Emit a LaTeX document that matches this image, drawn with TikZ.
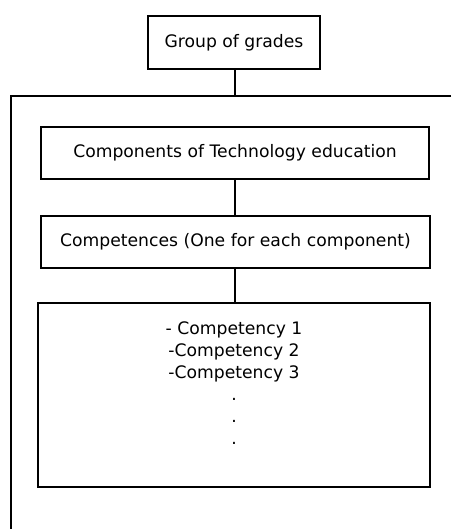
\documentclass[tikz,border=0pt]{standalone}
\usepackage{fontspec}
\setmainfont{DejaVu Sans}
\usetikzlibrary{positioning}
\tikzset{box/.style={draw, line width=2pt, inner sep=0pt, font=\fontsize{17.2}{22}\selectfont},
  link/.style={draw, line width=2pt}}

\begin{document}
\begin{tikzpicture}[x=1pt, y=-1pt]
\useasboundingbox (0,0) rectangle (451,529);
\node[box, minimum width=172pt, minimum height=53pt] (grp) at (234,42.5) {Group of grades};
\node[box, minimum width=388pt, minimum height=52pt] (comp) at (235,153) {Components of Technology education};
\node[box, minimum width=389pt, minimum height=52pt] (cmpt) at (235.5,242) {Competences (One for each component)};
\node[box, minimum width=392pt, minimum height=184pt] (list) at (234,395) {};
\node[below=20pt of list.north, align=center, inner sep=0pt, font=\fontsize{17.2}{22}\selectfont] (items)
  {- Competency 1\\ -Competency 2\\ -Competency 3\\ .\\ .\\ .};
\coordinate (top) at (235,96);
\coordinate (tl) at (11,96);
\path[link] (451,96) -- (tl) -- (11,529);
\path[link] (grp.south -| top) -- (top);
\path[link] (comp.south) -- (comp.south |- cmpt.north);
\path[link] (top |- cmpt.south) -- (top |- list.north);
\end{tikzpicture}
\end{document}
